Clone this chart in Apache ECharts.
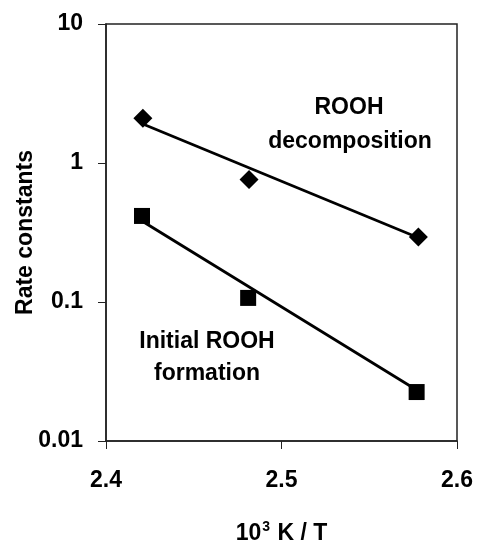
<!DOCTYPE html>
<html>
<head>
<meta charset="utf-8">
<script src="https://cdn.jsdelivr.net/npm/echarts@6/dist/echarts.min.js"></script>
<style>
  html, body { margin: 0; padding: 0; background: #fff; }
  #main { width: 478px; height: 543px; }
</style>
</head>
<body>
<div id="main"></div>
<script>
// measured points
var decompX = [2.421, 2.4815, 2.578];
var decompK = [2.1, 0.76, 0.294];
var formX = [2.4205, 2.481, 2.577];
var formK = [0.416, 0.107, 0.0225];
// fitted lines (end points)
var decompFitX = [2.421, 2.578];
var decompFitK = [1.91, 0.29];
var formFitX = [2.4205, 2.577];
var formFitK = [0.383, 0.0233];
var xTicks = [2.4, 2.5, 2.6];
var yTicks = [0.01, 0.1, 1, 10];

var font = '"Liberation Sans", Arial, sans-serif';

function pairs(xs, ys) {
  var out = [];
  for (var i = 0; i < xs.length; i++) out.push([xs[i], ys[i]]);
  return out;
}

function label(txt, x, y) {
  return {
    type: 'text', x: x, y: y,
    style: { text: txt, fontFamily: font, fontWeight: 'bold', fontSize: 23,
      fill: '#000', align: 'center', verticalAlign: 'middle' }
  };
}

var myChart = echarts.init(document.getElementById('main'));
var option = {
  backgroundColor: '#fff',
  animation: false,
  grid: {
    left: 106, right: 21, top: 24, bottom: 102,
    outerBoundsMode: 'none', containLabel: false,
    show: true, borderColor: '#222', borderWidth: 1.5
  },
  xAxis: {
    type: 'value',
    min: xTicks[0], max: xTicks[xTicks.length - 1], interval: 0.1,
    name: '{a|10}{s|3}{a| K / T}',
    nameLocation: 'middle',
    nameGap: 79,
    nameMoveOverlap: false,
    nameTextStyle: {
      rich: {
        a: { fontFamily: font, fontWeight: 'bold', fontSize: 23, color: '#000' },
        s: { fontFamily: font, fontWeight: 'bold', fontSize: 14, color: '#000', padding: [0, 1, 14, 1] }
      }
    },
    axisLine: { lineStyle: { color: '#222', width: 1.5 } },
    axisTick: { show: true, length: 8, lineStyle: { color: '#222', width: 1 } },
    splitLine: { show: false },
    axisLabel: {
      margin: 28,
      fontFamily: font, fontWeight: 'bold', fontSize: 23, color: '#000',
      formatter: function (v) { return v.toFixed(1); }
    }
  },
  yAxis: {
    type: 'log', logBase: 10,
    min: yTicks[0], max: yTicks[yTicks.length - 1],
    name: 'Rate constants',
    nameLocation: 'middle',
    nameGap: 69,
    nameMoveOverlap: false,
    nameTextStyle: { fontFamily: font, fontWeight: 'bold', fontSize: 23, color: '#000' },
    axisLine: { show: true, lineStyle: { color: '#222', width: 1.5 } },
    axisTick: { show: true, length: 8, lineStyle: { color: '#222', width: 1 } },
    minorTick: { show: false },
    splitLine: { show: false },
    axisLabel: {
      margin: 23,
      fontFamily: font, fontWeight: 'bold', fontSize: 23, color: '#000',
      formatter: function (v) { return String(+v.toPrecision(3)); }
    }
  },
  series: [
    {
      type: 'line', data: pairs(decompFitX, decompFitK), showSymbol: false,
      lineStyle: { color: '#000', width: 2.8 }
    },
    {
      type: 'line', data: pairs(formFitX, formFitK), showSymbol: false,
      lineStyle: { color: '#000', width: 2.8 }
    },
    {
      type: 'scatter', data: pairs(decompX, decompK), symbol: 'diamond', symbolSize: [19, 19],
      itemStyle: { color: '#000', opacity: 1 }
    },
    {
      type: 'scatter', data: pairs(formX, formK), symbol: 'rect', symbolSize: 16,
      itemStyle: { color: '#000', opacity: 1 }
    }
  ],
  graphic: [
    label('ROOH', 349, 108),
    label('decomposition', 350, 142),
    label('Initial ROOH', 207, 342),
    label('formation', 207, 374)
  ]
};
myChart.setOption(option);
</script>
</body>
</html>
